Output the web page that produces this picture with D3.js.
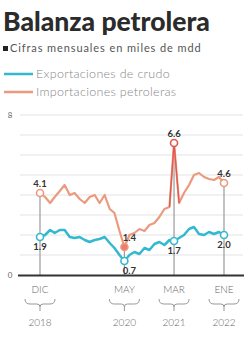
<!DOCTYPE html>
<html>
<head>
<meta charset="utf-8">
<script src="https://cdn.jsdelivr.net/npm/d3@7/dist/d3.min.js"></script>
<style>
  body { margin: 0; background: #fff; }
  svg { display: block; font-family: Lato, "Open Sans", sans-serif; }
</style>
</head>
<body>
<div id="container"></div>
<script>
// monthly, dic 2018 .. ene 2022
var months = d3.range(38).map(function(i){ return new Date(2018, 11 + i, 1); });
var exportaciones = [1.9, 2.0, 2.25, 2.1, 2.25, 2.25, 1.9, 1.85, 1.9, 1.75, 1.65, 1.75, 1.8,
  1.9, 1.6, 1.35, 1.0, 0.7,
  1.0, 1.15, 1.05, 1.35, 1.25, 1.55, 1.65, 1.5, 1.75, 1.7, 1.85, 2.0, 2.3, 2.4, 2.05, 2.0, 2.15, 2.05, 2.15, 2.0];
var importaciones = [4.1, 3.9, 3.6, 3.9, 4.2, 4.5, 4.0, 4.1, 3.8, 3.6, 3.9, 4.0, 3.6,
  4.0, 3.3, 3.1, 2.2, 1.4,
  2.0, 2.1, 2.3, 2.2, 2.5, 2.6, 2.9, 3.3, 3.4, 6.6, 3.6, 4.1, 4.5, 5.0, 5.1, 4.9, 4.8, 4.75, 4.9, 4.6];
var marked = [0, 17, 27, 37];
var monthLabels = ["DIC", "MAY", "MAR", "ENE"];
var yearLabels = ["2018", "2020", "2021", "2022"];
var yTicks = [0, 8];
var seriesNames = ["Exportaciones de crudo", "Importaciones petroleras"];

var width = 246, height = 338;
var cExp = "#33b9cf", cImp = "#eb9a7e", cRed = "#e2574f";

var svg = d3.select("#container").append("svg")
  .attr("width", width).attr("height", height);

svg.append("text").attr("x", 3).attr("y", 31)
  .style("font-size", "26.5px").style("font-weight", "900").attr("fill", "#2b2b2b")
  .text("Balanza petrolera");
svg.append("rect").attr("x", 3).attr("y", 46).attr("width", 5).attr("height", 5).attr("fill", "#222");
svg.append("text").attr("x", 10).attr("y", 52)
  .style("font-size", "11px").style("letter-spacing", "0.9px").attr("fill", "#555")
  .text("Cifras mensuales en miles de mdd");

var legend = svg.selectAll(".leg").data(seriesNames).enter().append("g")
  .attr("transform", function(d, i){ return "translate(4," + (74 + i * 18) + ")"; });
legend.append("line").attr("x1", 0).attr("x2", 29)
  .attr("stroke", function(d, i){ return i ? cImp : cExp; }).attr("stroke-width", 2.5);
legend.append("text").attr("x", 32).attr("y", 4)
  .style("font-size", "12.5px").style("font-weight", "300").style("letter-spacing", "0.3px")
  .attr("fill", "#888").text(function(d){ return d; });

var x = d3.scaleTime().domain([months[0], months[37]]).range([40, 224]);
var y = d3.scaleLinear().domain([0, 8]).range([275, 115]);

svg.append("g").selectAll("line").data(d3.range(1, 9)).enter().append("line")
  .attr("x1", 20).attr("x2", 243)
  .attr("y1", function(d){ return y(d); }).attr("y2", function(d){ return y(d); })
  .attr("stroke", "#e3e3e3").attr("stroke-width", 1);

svg.append("g").selectAll("text").data(yTicks).enter().append("text")
  .attr("x", 10).attr("y", function(d){ return y(d) + 3; })
  .attr("text-anchor", "middle").style("font-size", "8px").attr("fill", "#666")
  .text(function(d){ return d; });

// vertical markers
svg.append("g").selectAll("line").data(marked).enter().append("line")
  .attr("x1", function(i){ return x(months[i]); }).attr("x2", function(i){ return x(months[i]); })
  .attr("y1", function(i){ return y(importaciones[i]); }).attr("y2", 275)
  .attr("stroke", "#9a9a9a").attr("stroke-width", 1.2);

var line = d3.line().x(function(d, i){ return x(months[i]); }).y(function(d){ return y(d); });

svg.append("path").datum(importaciones).attr("d", line)
  .attr("fill", "none").attr("stroke", cImp).attr("stroke-width", 2.2).attr("stroke-linejoin", "round");
// red core around the march 2021 spike
var spike = d3.line().defined(function(d, i){ return i >= 26 && i <= 28; })
  .x(function(d, i){ return x(months[i]); }).y(function(d){ return y(d); });
svg.append("path").datum(importaciones).attr("d", spike)
  .attr("fill", "none").attr("stroke", cRed).attr("stroke-width", 1.3).attr("stroke-linejoin", "round");
svg.append("path").datum(exportaciones).attr("d", line)
  .attr("fill", "none").attr("stroke", cExp).attr("stroke-width", 2.5).attr("stroke-linejoin", "round");

svg.append("line").attr("x1", 18).attr("x2", 244).attr("y1", 275.5).attr("y2", 275.5)
  .attr("stroke", "#333").attr("stroke-width", 2);

function markers(vals, col, above) {
  var g = svg.append("g");
  g.selectAll("circle").data(marked).enter().append("circle")
    .attr("cx", function(i){ return x(months[i]); }).attr("cy", function(i){ return y(vals[i]); })
    .attr("r", 3.5)
    .attr("fill", function(i){ return (above && i == 17) ? "#f07a70" : "#fff"; })
    .attr("stroke", function(i){ return (above && i == 27) ? cRed : col; })
    .attr("stroke-width", 1.6);
  g.selectAll("text").data(marked).enter().append("text")
    .attr("x", function(i){ return x(months[i]) + (i == 17 ? 5 : 0); })
    .attr("y", function(i){ return y(vals[i]) + (above ? -6 : 13); })
    .attr("text-anchor", "middle").style("font-size", "9.5px").style("font-weight", "700")
    .attr("fill", "#333")
    .text(function(i){ return vals[i].toFixed(1); });
}
markers(importaciones, cImp, true);
markers(exportaciones, cExp, false);

// month / year labels with braces
var lab = svg.append("g").selectAll("g").data(marked).enter().append("g")
  .attr("transform", function(i){ return "translate(" + x(months[i]) + ",0)"; });
lab.append("text").attr("y", 293).attr("text-anchor", "middle")
  .style("font-size", "10px").style("font-weight", "300").attr("fill", "#666")
  .text(function(d, k){ return monthLabels[k]; });
lab.append("path")
  .attr("d", "M-15,299 Q-15,304 -10,304 L-3,304 Q0,304 0,307 L0,311 M0,307 Q0,304 3,304 L10,304 Q15,304 15,299")
  .attr("fill", "none").attr("stroke", "#999").attr("stroke-width", 1);
lab.append("text").attr("y", 326).attr("text-anchor", "middle")
  .style("font-size", "10px").style("font-weight", "300").attr("fill", "#666")
  .text(function(d, k){ return yearLabels[k]; });
</script>
</body>
</html>
